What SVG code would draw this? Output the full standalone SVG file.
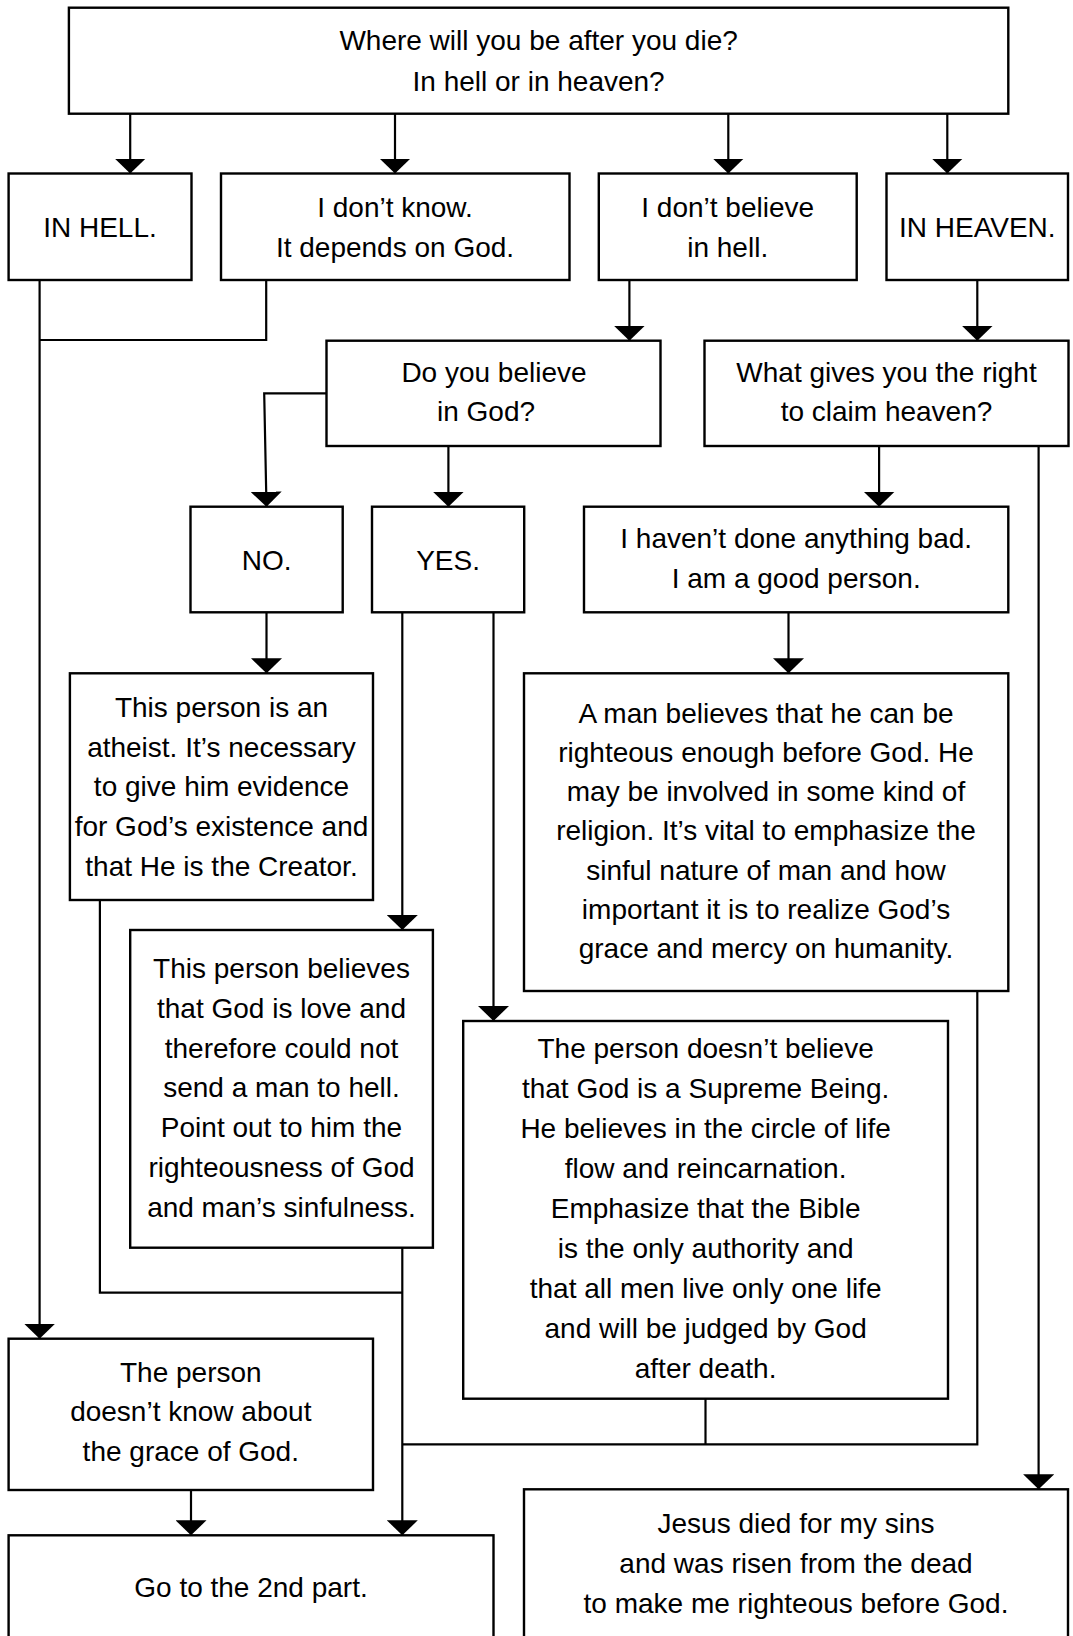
<svg xmlns="http://www.w3.org/2000/svg" width="1073" height="1636" viewBox="0 0 1073 1636">
<style>
.box{fill:#fff;stroke:#000;stroke-width:2.4}
.t{font-family:"Liberation Sans",Arial,sans-serif;font-size:28px;text-anchor:middle;fill:#000}
.c{fill:none;stroke:#000;stroke-width:2.2}
.a{marker-end:url(#ah)}
</style>
<defs>
<marker id="ah" markerUnits="userSpaceOnUse" viewBox="0 0 15 31" refX="15" refY="15.5" markerWidth="15" markerHeight="31" orient="auto">
<path d="M0,0 L15,15.5 L0,31 Z" fill="#000"/>
</marker>
</defs>
<rect width="1073" height="1636" fill="#fff"/>
<g id="connectors">
<path class="c a" d="M130.2,113.7 V173.5"/>
<path class="c a" d="M395,113.7 V173.5"/>
<path class="c a" d="M728.3,113.7 V173.5"/>
<path class="c a" d="M947.3,113.7 V173.5"/>
<path class="c a" d="M39.6,280 V1338.7"/>
<path class="c" d="M266.2,280 V340 H39.6"/>
<path class="c a" d="M629.4,280 V340.7"/>
<path class="c a" d="M977.3,280 V340.7"/>
<path class="c a" d="M326.5,393.3 H264.2 L266.5,506.7"/>
<path class="c a" d="M448.4,446 V506.7"/>
<path class="c a" d="M879.1,446 V506.7"/>
<path class="c a" d="M1038.6,446 V1489.3"/>
<path class="c a" d="M266.5,612.3 V673.3"/>
<path class="c a" d="M402.3,612.3 V930"/>
<path class="c a" d="M493.5,612.3 V1021"/>
<path class="c a" d="M788.5,612.3 V673.3"/>
<path class="c" d="M99.9,900 V1292.7 H402.3"/>
<path class="c a" d="M402.3,1247.7 V1535.3"/>
<path class="c" d="M977.3,991 V1444.3 H402.3"/>
<path class="c" d="M705.5,1398.7 V1444.3"/>
<path class="c a" d="M191,1490 V1535.3"/>
</g>
<g id="n1"><rect class="box" x="68.9" y="7.7" width="939.4" height="106"/>
<text class="t"><tspan x="538.6" y="50">Where will you be after you die?</tspan><tspan x="538.6" y="91">In hell or in heaven?</tspan></text></g>
<g id="n2"><rect class="box" x="8.6" y="173.5" width="182.9" height="106.5"/>
<text class="t" x="100" y="237">IN HELL.</text></g>
<g id="n3"><rect class="box" x="221" y="173.5" width="348.5" height="106.5"/>
<text class="t"><tspan x="395" y="217">I don’t know.</tspan><tspan x="395" y="256.7">It depends on God.</tspan></text></g>
<g id="n4"><rect class="box" x="598.8" y="173.5" width="257.9" height="106.5"/>
<text class="t"><tspan x="727.7" y="216.7">I don’t believe</tspan><tspan x="727.7" y="256.7">in hell.</tspan></text></g>
<g id="n5"><rect class="box" x="886.5" y="173.5" width="181.5" height="106.5"/>
<text class="t" x="977.3" y="236.7">IN HEAVEN.</text></g>
<g id="n6"><rect class="box" x="326.5" y="340.7" width="334" height="105.3"/>
<text class="t"><tspan x="494" y="381.7">Do you believe</tspan><tspan x="486" y="420.5">in God?</tspan></text></g>
<g id="n7"><rect class="box" x="704.5" y="340.7" width="364" height="105.3"/>
<text class="t"><tspan x="886.5" y="381.7">What gives you the right</tspan><tspan x="886.5" y="421">to claim heaven?</tspan></text></g>
<g id="n8"><rect class="box" x="190.5" y="506.7" width="152.2" height="105.6"/>
<text class="t" x="266.6" y="570">NO.</text></g>
<g id="n9"><rect class="box" x="372" y="506.7" width="152.2" height="105.6"/>
<text class="t" x="448.1" y="570">YES.</text></g>
<g id="n10"><rect class="box" x="584" y="506.7" width="424.3" height="105.6"/>
<text class="t"><tspan x="796.2" y="548.3">I haven’t done anything bad.</tspan><tspan x="796.2" y="588.3">I am a good person.</tspan></text></g>
<g id="n11"><rect class="box" x="69.9" y="673.3" width="303.1" height="226.7"/>
<text class="t"><tspan x="221.5" y="717">This person is an</tspan><tspan x="221.5" y="756.7">atheist. It’s necessary</tspan><tspan x="221.5" y="796.4">to give him evidence</tspan><tspan x="221.5" y="836.1">for God’s existence and</tspan><tspan x="221.5" y="875.8">that He is the Creator.</tspan></text></g>
<g id="n12"><rect class="box" x="524" y="673.3" width="484.3" height="317.7"/>
<text class="t"><tspan x="766" y="722.5">A man believes that he can be</tspan><tspan x="766" y="761.8">righteous enough before God. He</tspan><tspan x="766" y="801.1">may be involved in some kind of</tspan><tspan x="766" y="840.4">religion. It’s vital to emphasize the</tspan><tspan x="766" y="879.7">sinful nature of man and how</tspan><tspan x="766" y="919">important it is to realize God’s</tspan><tspan x="766" y="958.3">grace and mercy on humanity.</tspan></text></g>
<g id="n13"><rect class="box" x="130.2" y="930" width="302.7" height="317.7"/>
<text class="t"><tspan x="281.5" y="978">This person believes</tspan><tspan x="281.5" y="1017.8">that God is love and</tspan><tspan x="281.5" y="1057.6">therefore could not</tspan><tspan x="281.5" y="1097.4">send a man to hell.</tspan><tspan x="281.5" y="1137.2">Point out to him the</tspan><tspan x="281.5" y="1177">righteousness of God</tspan><tspan x="281.5" y="1216.8">and man’s sinfulness.</tspan></text></g>
<g id="n14"><rect class="box" x="463.2" y="1021" width="484.8" height="377.7"/>
<text class="t"><tspan x="705.6" y="1058">The person doesn’t believe</tspan><tspan x="705.6" y="1098">that God is a Supreme Being.</tspan><tspan x="705.6" y="1138">He believes in the circle of life</tspan><tspan x="705.6" y="1178">flow and reincarnation.</tspan><tspan x="705.6" y="1218">Emphasize that the Bible</tspan><tspan x="705.6" y="1258">is the only authority and</tspan><tspan x="705.6" y="1298">that all men live only one life</tspan><tspan x="705.6" y="1338">and will be judged by God</tspan><tspan x="705.6" y="1378">after death.</tspan></text></g>
<g id="n15"><rect class="box" x="8.6" y="1338.7" width="364.4" height="151.3"/>
<text class="t"><tspan x="190.8" y="1381.7">The person</tspan><tspan x="190.8" y="1421">doesn’t know about</tspan><tspan x="190.8" y="1461">the grace of God.</tspan></text></g>
<g id="n16"><rect class="box" x="8.6" y="1535.3" width="484.9" height="130"/>
<text class="t" x="251" y="1596.7">Go to the 2nd part.</text></g>
<g id="n17"><rect class="box" x="524" y="1489.3" width="544" height="180"/>
<text class="t"><tspan x="796" y="1532.7">Jesus died for my sins</tspan><tspan x="796" y="1572.7">and was risen from the dead</tspan><tspan x="796" y="1612.7">to make me righteous before God.</tspan></text></g>
</svg>
